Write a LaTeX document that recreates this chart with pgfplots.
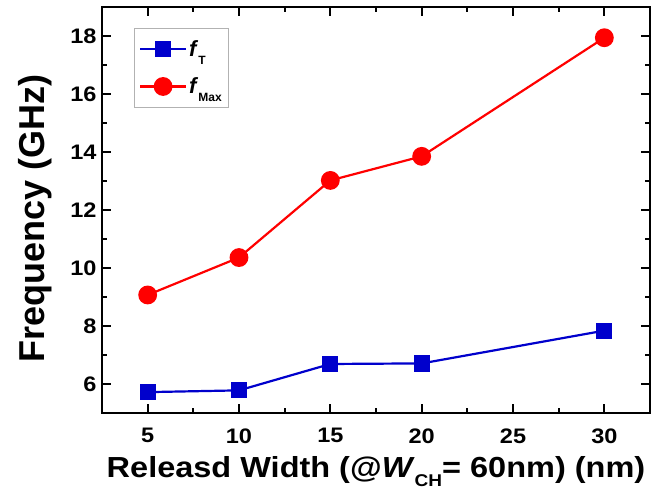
\documentclass[border=0pt]{standalone}
\usepackage{pgfplots}
\pgfplotsset{compat=1.18}
\usepackage{fontspec}
\setmainfont{Liberation Sans}
\newfontfamily\widefont[FakeStretch=1.12]{Liberation Sans}
\definecolor{oblue}{RGB}{0,0,204}
\definecolor{ored}{RGB}{255,0,0}
\newcommand{\lsub}[1]{\raisebox{-8pt}{\fontsize{12}{12}\selectfont #1}}
\begin{document}
\begin{tikzpicture}
\path[use as bounding box] (-102pt,-81pt) rectangle (558pt,413pt);
\begin{axis}[
 at={(0,0)}, anchor=south west,
 width=548pt, height=406pt, scale only axis,
 xmin=2.5, xmax=32.5, ymin=5, ymax=19,
 xtick={5,10,15,20,25,30}, ytick={6,8,...,18},
 minor x tick num=1, minor y tick num=1,
 xtick pos=both, ytick pos=both,
 tick align=inside, major tick length=9pt, minor tick length=5pt,
 axis line style={line width=2.5pt},
 every tick/.style={line width=2pt, black},
 /pgf/number format/assume math mode=true,
 tick label style={font=\widefont\bfseries\fontsize{21}{22}\selectfont},
 xticklabel style={yshift=-12pt},
 yticklabel style={xshift=-2pt},
 xlabel={\widefont\bfseries\fontsize{29}{30}\selectfont Releasd Width (@\textit{W}\raisebox{-9pt}{\fontsize{17}{17}\selectfont CH}= 60nm) (nm)},
 xlabel style={at={(axis description cs:0.5,0)}, anchor=base, yshift=-64pt},
 ylabel={\bfseries\fontsize{36}{38}\selectfont Frequency (GHz)},
 ylabel style={at={(axis description cs:-0.1223,0.48)}, rotate=0, anchor=center},
 legend style={at={(0.058,0.948)}, anchor=north west, draw=gray!60,
   font=\bfseries\fontsize{22}{24}\selectfont, row sep=16pt, inner xsep=5pt, inner ysep=10pt,
   nodes={inner sep=2pt}},
 legend cell align=left,
 legend image code/.code={\draw[mark repeat=2,mark phase=2,#1,line width=2.2pt] plot coordinates {(0pt,0pt) (23pt,0pt) (46pt,0pt)};},
]
\addplot[color=oblue, line width=2.2pt, mark=square*, mark size=7pt, mark options={solid, fill=oblue}] coordinates {
 (5,5.72) (10,5.78) (15,6.69) (20,6.71) (30,7.84)};
\addlegendentry{\textit{f}\lsub{T}}
\addplot[color=ored, line width=2.2pt, mark=*, mark size=8.3pt, mark options={solid, fill=ored}] coordinates {
 (5,9.07) (10,10.36) (15,13.02) (20,13.85) (30,17.94)};
\addlegendentry{\textit{f}\lsub{Max}}
\end{axis}
\end{tikzpicture}
\end{document}
